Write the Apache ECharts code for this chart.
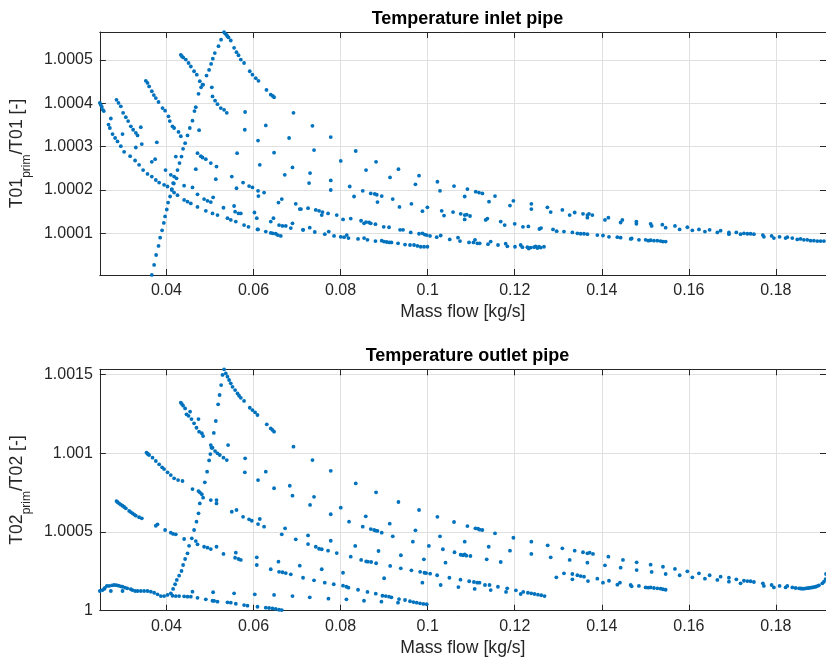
<!DOCTYPE html>
<html><head><meta charset="utf-8">
<script src="https://cdn.jsdelivr.net/npm/echarts@6/dist/echarts.min.js"></script>
<style>html,body{margin:0;padding:0;background:#fff}#c{width:826px;height:660px}</style>
</head><body><div id="c"></div>
<script>
const xTicks = [0.04, 0.06, 0.08, 0.1, 0.12, 0.14, 0.16, 0.18];
const inletTicks = [1.0001, 1.0002, 1.0003, 1.0004, 1.0005];
const outletTicks = [1, 1.0005, 1.001, 1.0015];
const xRange = [0.0247, 0.1915];
const inletRange = [1.0000038, 1.0005646];
const outletRange = [1.0, 1.001532];

// ---------- Temperature inlet pipe ----------
const inletRise = [[0.03664,1.000004],[0.03717,1.000027],[0.03763,1.00005],[0.03818,1.000071],[0.03855,1.00009],[0.039,1.000107],[0.0394,1.000124],[0.03969,1.000139],[0.04008,1.000155],[0.04038,1.000171],[0.04084,1.000185],[0.04123,1.0002],[0.04169,1.000215],[0.04254,1.000246],[0.043,1.000262],[0.04346,1.000277],[0.04382,1.000295],[0.04429,1.000308],[0.04484,1.000326],[0.04537,1.000343],[0.04598,1.00036],[0.04644,1.000382],[0.04674,1.000391],[0.04736,1.000422],[0.04796,1.000437],[0.04842,1.000443],[0.0492,1.000464],[0.0498,1.000477],[0.05026,1.000491],[0.05065,1.000503],[0.05111,1.000516],[0.05196,1.000532],[0.05255,1.000547],[0.05324,1.000564]];
const inletSteep = [[0.0247,1.000401],[0.02493,1.000396],[0.02516,1.000392],[0.02539,1.000385],[0.02562,1.000382],
[0.02853,1.000408],[0.02899,1.000401],[0.02952,1.000393],[0.03005,1.000378],[0.03067,1.000368],[0.0312,1.000359],[0.03182,1.000347],[0.03235,1.000339],[0.03297,1.000332],[0.03336,1.000326],
[0.03526,1.000452],[0.03565,1.000447],[0.03602,1.000439],[0.03664,1.000428],[0.0371,1.000419],[0.03756,1.000412],[0.03818,1.000403],[0.0391,1.000389],[0.03969,1.000383],[0.04047,1.00037],[0.04077,1.000359],[0.04139,1.000347],[0.04176,1.000343],[0.04277,1.000334],[0.0433,1.000324],
[0.0433,1.000512],[0.0435,1.000509],[0.04383,1.000506],[0.04445,1.000501],[0.04507,1.000493],[0.0456,1.000485],[0.04635,1.000474],[0.04697,1.000466],[0.04766,1.000451],[0.04828,1.000443],[0.05042,1.000437],[0.05058,1.000416],[0.05117,1.000406],[0.05173,1.000398],[0.05248,1.000389],[0.05324,1.000385],[0.05386,1.000378],
[0.0535,1.000561],[0.05379,1.000558],[0.054,1.000555],[0.05425,1.000552],[0.05478,1.000545],[0.05554,1.000528],[0.05609,1.000518],[0.05655,1.000511],[0.05708,1.000501],[0.05783,1.000493],[0.05914,1.000474],[0.05976,1.000466],[0.06052,1.000458],[0.06114,1.000452],[0.06298,1.000431],[0.06396,1.00042],[0.06442,1.000417],[0.06472,1.000414]];
const inletLower = [[0.0267,1.000351],[0.027,1.000343],[0.02723,1.000365],[0.02762,1.000329],[0.02821,1.00032],[0.02876,1.000312],[0.02952,1.000301],[0.03028,1.000288],[0.03166,1.000278],[0.0328,1.000268],[0.03372,1.000258],[0.03464,1.000246],[0.03565,1.000237],[0.03664,1.000231],[0.03756,1.000223],[0.03832,1.000217],[0.03946,1.000212],[0.04024,1.000208],[0.04123,1.000202],[0.04176,1.000194],[0.04254,1.000188],[0.04406,1.000177],[0.04484,1.000173],[0.0456,1.000169],[0.04713,1.000161],[0.04904,1.000152],[0.05058,1.000146],[0.05173,1.000142],[0.05402,1.000135],[0.05478,1.000131],[0.05593,1.000127],[0.05783,1.000119],[0.05884,1.000115],[0.06091,1.000109],[0.06282,1.000104],[0.06396,1.000101],[0.06442,1.0001],[0.06511,1.000099],[0.06557,1.000096],[0.06626,1.000094]];
const inletMid = [[0.03664,1.000265],[0.0374,1.000271],[0.03979,1.000246],[0.041,1.000235],[0.04176,1.000231],[0.04231,1.000227],[0.04153,1.000216],[0.04215,1.000277],[0.04713,1.000285],[0.04789,1.000278],[0.04828,1.000275],[0.04904,1.000271],[0.05019,1.000262],[0.0515,1.000254],[0.04674,1.000248],[0.05134,1.000225],[0.04406,1.00021],[0.04598,1.000206],[0.04713,1.00019],[0.04865,1.000179],[0.04943,1.000175],[0.05019,1.000172],[0.05072,1.000183],[0.0531,1.000159],[0.05554,1.000163],[0.05577,1.00015],[0.05655,1.000146],[0.05708,1.000146],[0.05501,1.000231],[0.05609,1.000204],[0.0576,1.000217],[0.05898,1.000209],[0.05976,1.000206],[0.06104,1.000198],[0.06243,1.000194],[0.06112,1.000186],[0.06022,1.000148],[0.06075,1.000135],[0.06104,1.000109],[0.06396,1.000127],[0.06458,1.000135],[0.06587,1.000119],[0.06665,1.000117],[0.06741,1.000117],[0.06895,1.000123],[0.06856,1.000112],[0.07138,1.000108],[0.06573,1.000171],[0.06649,1.000179],[0.0697,1.000168],[0.07062,1.000156],[0.06718,1.000235],[0.06895,1.000252],[0.06144,1.000258],[0.06472,1.000286],[0.05623,1.000285],[0.05807,1.00038],[0.058,1.000339],[0.06104,1.000314],[0.06282,1.000349],[0.06817,1.00032],[0.06918,1.000378],[0.0475,1.000338],[0.07354,1.000348],[0.03779,1.00031],[0.02991,1.000329],[0.03411,1.000345],[0.03434,1.000306],[0.03297,1.000298]];
const inletRightUpper = [[0.07774,1.000322],[0.0739,1.000292],[0.07299,1.000239],[0.07276,1.000216],[0.07774,1.000222],[0.07774,1.0002],[0.08004,1.000267],[0.08348,1.00029],[0.08585,1.000246],[0.08815,1.000265],[0.0821,1.000208],[0.0831,1.000185],[0.08509,1.000198],[0.08693,1.000192],[0.08785,1.000191],[0.08831,1.000189],[0.08945,1.000186],[0.08847,1.000172],[0.09136,1.000229],[0.09329,1.000248],[0.09198,1.000179],[0.09352,1.000161],[0.09802,1.000233],[0.09719,1.000213],[0.09627,1.000168],[0.0988,1.000151],[0.09994,1.00016],[0.10224,1.000219],[0.10284,1.000198],[0.10606,1.000209],[0.10913,1.000202],[0.10851,1.000185],[0.11104,1.000196],[0.11179,1.000194],[0.11257,1.000192],[0.11547,1.000186],[0.11409,1.000173],[0.11969,1.000175],[0.11891,1.000164],[0.12382,1.000168],[0.12382,1.000156],[0.1275,1.00016],[0.12826,1.000149],[0.13094,1.000154],[0.13262,1.000142],[0.13377,1.000148],[0.13568,1.000145],[0.13669,1.000142],[0.13705,1.000145],[0.13783,1.000142],[0.13669,1.000136],[0.14073,1.000131],[0.14151,1.000136],[0.14433,1.000125],[0.14472,1.000131],[0.14794,1.000127],[0.14794,1.000122],[0.15122,1.000122],[0.15145,1.000117],[0.15391,1.00012],[0.15467,1.000113],[0.15681,1.000117],[0.15788,1.000109],[0.15965,1.000114],[0.1608,1.000107],[0.16231,1.000109],[0.16369,1.000104],[0.16477,1.000108],[0.16654,1.000102],[0.16729,1.000106],[0.1692,1.000102],[0.1692,1.000098],[0.1709,1.000102],[0.17188,1.000098],[0.17265,1.0001],[0.17343,1.000099],[0.17418,1.000099],[0.17494,1.000098],[0.177,1.000096],[0.17723,1.000092],[0.17901,1.000094],[0.17953,1.000089],[0.18084,1.000092],[0.18222,1.000089],[0.18261,1.000091],[0.18376,1.000089],[0.1849,1.000086],[0.18566,1.000087],[0.18642,1.000085],[0.1872,1.000085],[0.18796,1.000083],[0.18872,1.000083],[0.1895,1.000082],[0.19026,1.000082],[0.19102,1.000082],[0.19157,1.000081]];
const inletRightMid = [[0.0709,1.000156],[0.07253,1.000158],[0.0743,1.000154],[0.07506,1.000152],[0.07584,1.000149],[0.07567,1.000142],[0.07712,1.000146],[0.07912,1.000142],[0.08057,1.000132],[0.08233,1.000134],[0.0847,1.000129],[0.0854,1.000123],[0.08585,1.000126],[0.08654,1.000125],[0.08693,1.000123],[0.08801,1.000121],[0.08991,1.000115],[0.09113,1.000114],[0.09366,1.000108],[0.09434,1.000108],[0.09611,1.000102],[0.09802,1.000099],[0.0988,1.0001],[0.09933,1.000097],[0.09978,1.000096],[0.10323,1.000152],[0.10376,1.000141],[0.10583,1.000149],[0.10759,1.000145],[0.10851,1.000142],[0.10897,1.000143],[0.10973,1.00014],[0.10851,1.000132],[0.11333,1.000131],[0.11372,1.000134],[0.11678,1.000127],[0.11769,1.000119],[0.11999,1.000122],[0.12189,1.000115],[0.12313,1.000116],[0.12567,1.00011],[0.12604,1.000112],[0.12879,1.000109],[0.12964,1.000105],[0.13131,1.000104],[0.13324,1.000102],[0.13439,1.0001],[0.13515,1.000099],[0.13591,1.000099],[0.13669,1.000098],[0.13898,1.000096],[0.14027,1.000095],[0.14165,1.000092],[0.14357,1.000091],[0.14433,1.00009],[0.14663,1.000087],[0.14686,1.000088],[0.14853,1.000085],[0.15007,1.000085],[0.15069,1.000083],[0.15122,1.000084],[0.15198,1.000083],[0.15276,1.000083],[0.15352,1.000082],[0.15405,1.000081],[0.15467,1.000081]];
const inletRightLow = [[0.07138,1.000108],[0.07292,1.000113],[0.07407,1.000103],[0.07637,1.000098],[0.07728,1.000104],[0.0785,1.000094],[0.08004,1.000092],[0.0808,1.000091],[0.08142,1.000096],[0.08181,1.000089],[0.08401,1.000087],[0.0854,1.000089],[0.08617,1.000085],[0.08801,1.000082],[0.08945,1.000083],[0.08998,1.000081],[0.0906,1.00008],[0.09122,1.000079],[0.09168,1.000079],[0.0932,1.000077],[0.0948,1.000074],[0.09595,1.000073],[0.09687,1.000073],[0.09765,1.000071],[0.09841,1.000069],[0.09917,1.000069],[0.09994,1.000069],[0.10054,1.000094],[0.10208,1.000091],[0.103,1.000095],[0.10507,1.000086],[0.10697,1.00009],[0.10743,1.000082],[0.1095,1.000079],[0.11051,1.000079],[0.11088,1.000085],[0.11142,1.000077],[0.11195,1.000077],[0.11386,1.000075],[0.11448,1.000081],[0.11616,1.000073],[0.11792,1.000076],[0.11831,1.00007],[0.12006,1.000069],[0.12137,1.000073],[0.12176,1.000068],[0.1229,1.000068],[0.1232,1.000065],[0.12366,1.000067],[0.12443,1.000068],[0.1248,1.00007],[0.12521,1.000066],[0.12558,1.000069],[0.12597,1.000067],[0.12672,1.000069]];

// ---------- Temperature outlet pipe ----------
const outletRise = [[0.04024,1.0001],[0.041,1.00011],[0.04153,1.000138],[0.04199,1.000168],[0.04238,1.000195],[0.04291,1.000222],[0.04346,1.000252],[0.04383,1.00029],[0.04429,1.000328],[0.04484,1.000364],[0.0452,1.000412],[0.04582,1.000459],[0.04635,1.000512],[0.0469,1.000565],[0.04736,1.000618],[0.04766,1.000681],[0.04812,1.000739],[0.04881,1.000815],[0.04934,1.000882],[0.0498,1.000954],[0.05008,1.000994],[0.05035,1.001034],[0.05088,1.001128],[0.05134,1.001204],[0.05187,1.00131],[0.05221,1.001369],[0.05256,1.001432],[0.05288,1.001496],[0.05324,1.001532]];
const outletLow = [[0.0247,1.000125],[0.02532,1.000131],[0.0257,1.000138],[0.02585,1.000144],[0.02631,1.000157],[0.02684,1.000157],[0.02723,1.000125],[0.0275,1.000161],[0.02798,1.000163],[0.0285,1.000162],[0.02899,1.000159],[0.0295,1.000155],[0.02991,1.000152],[0.02991,1.000125],[0.03051,1.000146],[0.031,1.000142],[0.03182,1.000136],[0.0322,1.000131],[0.0328,1.000125],[0.03336,1.000125],[0.03411,1.000125],[0.03487,1.000125],[0.03565,1.000125],[0.03641,1.000121],[0.03717,1.000114],[0.03795,1.000104],[0.03871,1.000093],[0.03946,1.000093],[0.04139,1.000095],[0.04215,1.000093],[0.04291,1.000093],[0.04406,1.000091],[0.04484,1.000089],[0.0456,1.000089],[0.04713,1.000082],[0.04904,1.000072],[0.05058,1.000063],[0.05096,1.000062],[0.05173,1.000057],[0.05402,1.000053],[0.05478,1.000051],[0.05593,1.000044],[0.05783,1.000036],[0.05861,1.000032],[0.06091,1.000025],[0.06282,1.000019],[0.06357,1.000017],[0.06435,1.000015],[0.06511,1.000011],[0.06587,1.000006],[0.06649,1.000004]];
const outletSteep = [[0.02853,1.000696],[0.02872,1.00069],[0.02913,1.000681],[0.0295,1.000673],[0.02991,1.000666],[0.0303,1.000658],[0.03067,1.00065],[0.03143,1.000633],[0.0318,1.000626],[0.03221,1.000618],[0.0326,1.00061],[0.03297,1.000603],[0.03372,1.000593],[0.03434,1.000586],
[0.03542,1.001003],[0.0357,1.000997],[0.03572,1.000994],[0.03602,1.000988],[0.0368,1.000971],[0.03756,1.00095],[0.03832,1.000929],[0.039,1.00091],[0.03946,1.000899],[0.04024,1.000878],[0.041,1.000861],[0.04176,1.00084],[0.04268,1.000829],[0.04369,1.000823],
[0.04598,1.000772],[0.04736,1.000759],[0.04766,1.000751],[0.04842,1.000717],[0.05019,1.000702],[0.0515,1.000702],[0.0515,1.000681],[0.05501,1.000628],[0.05609,1.000639],[0.0576,1.000596],[0.05898,1.00058],[0.0596,1.000571],[0.06144,1.000582],[0.06104,1.00055],[0.06243,1.000533],[0.06725,1.000523],[0.06649,1.000485],[0.0697,1.000453],[0.06472,1.000777],[0.06833,1.000793],[0.06895,1.00073],
[0.0433,1.00132],[0.04353,1.001312],[0.04383,1.001301],[0.04429,1.001284],[0.04461,1.001246],[0.04507,1.001237],[0.04543,1.001263],[0.04575,1.001216],[0.04635,1.001189],[0.0469,1.001161],[0.04736,1.001216],[0.0475,1.001136],[0.04812,1.001126],[0.04842,1.001108],[0.05019,1.001051],[0.05058,1.001034],[0.05117,1.001013],[0.05173,1.000999],[0.05225,1.000988],[0.0531,1.000971],[0.05386,1.000956],[0.05416,1.001051],
[0.05363,1.001506],[0.05402,1.001485],[0.05439,1.001464],[0.05478,1.001443],[0.05517,1.001421],[0.05577,1.0014],[0.05632,1.001379],[0.05668,1.001364],[0.05708,1.001351],[0.05783,1.001331],[0.05914,1.001288],[0.05976,1.001273],[0.06036,1.001259],[0.06091,1.001242],[0.06305,1.001183],[0.06396,1.001157],[0.06435,1.001147],[0.06472,1.001136],
[0.05807,1.000967],[0.058,1.000878],[0.06104,1.000829],[0.06282,1.000882],[0.06918,1.001041]];
const outletMid = [[0.03756,1.000539],[0.03795,1.000548],[0.03969,1.000512],[0.041,1.000495],[0.04153,1.000487],[0.04215,1.000485],[0.04406,1.000455],[0.04674,1.000442],[0.04713,1.000421],[0.04865,1.000406],[0.04943,1.0004],[0.05019,1.000391],[0.0515,1.000406],[0.0531,1.00036],[0.05577,1.000336],[0.05593,1.000368],[0.05655,1.000328],[0.05708,1.000322],[0.06075,1.000339],[0.06075,1.00029],[0.06396,1.000263],[0.06573,1.000311],[0.06587,1.000247],[0.06665,1.000244],[0.06741,1.000239],[0.06856,1.000231],[0.07062,1.000286],[0.07138,1.000209],[0.0739,1.000193],[0.07636,1.000178],[0.07843,1.000168],[0.08056,1.000159],[0.08134,1.000152],[0.0818,1.000146],[0.08401,1.000133],[0.08617,1.000119],[0.08808,1.000108],[0.08961,1.000095],[0.09037,1.000093],[0.09113,1.000089],[0.09168,1.000085],[0.09342,1.000074],
[0.04598,1.000121],[0.05072,1.000117],[0.05554,1.00011],[0.06029,1.000104],[0.06472,1.0001],[0.06895,1.000093],[0.07292,1.000085],[0.07721,1.000076],[0.08134,1.000072],[0.08538,1.000063],[0.08938,1.000057],[0.09319,1.000051],[0.0948,1.000068],[0.09595,1.00006],[0.09673,1.000055],[0.09749,1.000051],[0.09825,1.000047],[0.09902,1.000043],[0.09978,1.000041]];
const outletRight = [[0.07354,1.000956],[0.07774,1.000888],[0.08348,1.000808],[0.08815,1.000751],[0.07299,1.000671],[0.0739,1.000723],[0.07774,1.000612],[0.08004,1.000654],[0.08194,1.000565],[0.08578,1.000599],[0.08509,1.000533],[0.08693,1.000518],[0.08769,1.000512],[0.08808,1.000508],[0.08847,1.000506],[0.08945,1.000495],[0.09129,1.000552],[0.09329,1.00069],[0.09198,1.000472],[0.09802,1.000639],[0.09719,1.00051],[0.10224,1.000596],[0.10284,1.000472],[0.10606,1.000563],[0.10913,1.000537],[0.11097,1.000523],[0.11157,1.00052],[0.11195,1.000514],[0.11257,1.000512],[0.11547,1.000491],[0.11969,1.000463],[0.12382,1.000438],[0.12757,1.000415],[0.12826,1.000339],[0.12382,1.00036],[0.11891,1.000381],[0.11678,1.000309],[0.11402,1.000406],[0.11356,1.000326],[0.10851,1.000438],[0.10851,1.000358],[0.10759,1.000355],[0.10812,1.000352],[0.1089,1.000349],[0.10982,1.000347],[0.10617,1.000371],[0.1041,1.000305],[0.1035,1.00039],[0.10028,1.000411],[0.09913,1.000326],[0.0966,1.000438],[0.09385,1.000352],[0.09139,1.000284],[0.08871,1.000379],[0.08336,1.000411],[0.08233,1.000343],[0.07912,1.000366],[0.07774,1.000444],[0.07712,1.000381],[0.07567,1.00039],[0.07505,1.000393],[0.0743,1.000406],[0.07253,1.000423],[0.07253,1.000478],[0.07567,1.000263],[0.08056,1.000241],[0.08473,1.000322],[0.08588,1.000313],[0.08627,1.000311],[0.08702,1.000309],[0.08817,1.000301],[0.09,1.000206],[0.09383,1.000269],[0.09627,1.000256],[0.09827,1.000247],[0.09926,1.000241],[0.09965,1.000239],[0.10057,1.000235],[0.10218,1.000225],[0.10499,1.000209],[0.10754,1.000197],[0.10954,1.000187],[0.11062,1.000182],[0.11138,1.000178],[0.11191,1.000178],[0.11421,1.000163],[0.11614,1.000152],[0.11827,1.000142],[0.12027,1.000129],[0.12195,1.000119],[0.12303,1.000114],[0.12379,1.00011],[0.12455,1.000106],[0.12533,1.000102],[0.12609,1.000098],[0.12685,1.000093],[0.12137,1.000106],[0.118,1.000119],[0.11448,1.000131],[0.11317,1.000163],[0.1108,1.000138],[0.10706,1.00015],[0.10299,1.000163],[0.09879,1.000178]];
const outletFar = [[0.13094,1.000396],[0.13262,1.000322],[0.13377,1.000381],[0.13568,1.000371],[0.13669,1.000364],[0.13721,1.000368],[0.13797,1.00036],[0.13669,1.000305],[0.14151,1.000343],[0.14073,1.000288],[0.14486,1.000322],[0.14433,1.000273],[0.14801,1.000307],[0.14801,1.000258],[0.15122,1.000292],[0.15145,1.000246],[0.15405,1.000279],[0.15467,1.000233],[0.1568,1.000265],[0.15788,1.000225],[0.15965,1.00025],[0.1608,1.000212],[0.16231,1.000237],[0.16369,1.000203],[0.16477,1.000225],[0.16654,1.000195],[0.16729,1.000216],[0.1692,1.000209],[0.1692,1.000184],[0.1709,1.000199],[0.17188,1.000174],[0.17265,1.00019],[0.17343,1.000188],[0.17418,1.000187],[0.17494,1.000182],[0.177,1.000174],[0.17723,1.000157],[0.17901,1.000163],[0.17953,1.000148],[0.18084,1.000157],[0.18222,1.000148],[0.18261,1.000157],[0.18376,1.000148],[0.18452,1.000144],[0.18528,1.000142],[0.1857,1.000141],[0.18606,1.00014],[0.1864,1.00014],[0.18682,1.000142],[0.1872,1.000143],[0.18758,1.000144],[0.188,1.000146],[0.18836,1.000148],[0.1887,1.00015],[0.18912,1.000152],[0.1895,1.000156],[0.18988,1.000161],[0.19066,1.000174],[0.19102,1.000184],[0.19141,1.000201],[0.1915,1.000233]];
const outletFarLow = [[0.12956,1.000212],[0.13131,1.000237],[0.13324,1.000233],[0.13324,1.000199],[0.13439,1.000225],[0.13515,1.00022],[0.13591,1.000216],[0.13683,1.000188],[0.13898,1.000203],[0.14027,1.000178],[0.14165,1.00019],[0.14358,1.000165],[0.14417,1.000178],[0.14663,1.000163],[0.14686,1.000155],[0.14853,1.000157],[0.15007,1.000148],[0.15069,1.000146],[0.15122,1.000148],[0.15198,1.000144],[0.15276,1.000142],[0.15352,1.00014],[0.15405,1.000136],[0.15467,1.000133]];

const inletSets = [inletRise, inletSteep, inletLower, inletMid, inletRightUpper, inletRightMid, inletRightLow];
const outletSets = [outletRise, outletLow, outletSteep, outletMid, outletRight, outletFar, outletFarLow];

const FONT = '"Liberation Sans", Arial, Helvetica, sans-serif';
const TXT = '#262626';
const DOT = '#0072BD';
const fmt = v => String(+(+v).toFixed(6));

function xAxes(grid) {
  const base = {
    gridIndex: grid, type: 'value', min: xRange[0], max: xRange[1],
    axisLine: { show: true, onZero: false, lineStyle: { color: TXT, width: 1 } },
    axisTick: { show: true, inside: true, length: 6, customValues: xTicks, lineStyle: { color: TXT } }
  };
  return [
    Object.assign({}, base, {
      position: 'bottom',
      axisLabel: { show: true, customValues: xTicks, formatter: fmt, margin: 8, fontSize: 16, color: TXT, fontFamily: FONT },
      splitLine: { show: true, lineStyle: { color: '#e0e0e0', width: 1 } },
      name: 'Mass flow [kg/s]', nameLocation: 'middle', nameGap: 28,
      nameTextStyle: { fontSize: 17.6, color: TXT, fontFamily: FONT }
    }),
    Object.assign({}, base, { position: 'top', axisLabel: { show: false }, splitLine: { show: false } })
  ];
}
function yAxes(grid, range, ticks, label) {
  const base = {
    gridIndex: grid, type: 'value', min: range[0], max: range[1],
    axisLine: { show: true, onZero: false, lineStyle: { color: TXT, width: 1 } },
    axisTick: { show: true, inside: true, length: 6, customValues: ticks, lineStyle: { color: TXT } }
  };
  return [
    Object.assign({}, base, {
      position: 'left',
      axisLabel: { show: true, customValues: ticks, formatter: fmt, margin: 7, fontSize: 16, color: TXT, fontFamily: FONT },
      splitLine: { show: true, lineStyle: { color: '#e0e0e0', width: 1 } },
      name: label, nameLocation: 'middle', nameRotate: 90, nameGap: 54,
      nameTextStyle: {
        color: TXT, fontFamily: FONT,
        rich: {
          m: { fontSize: 17.6, lineHeight: 18, verticalAlign: 'top', color: TXT, fontFamily: FONT },
          s: { fontSize: 12, lineHeight: 25, verticalAlign: 'bottom', color: TXT, fontFamily: FONT }
        }
      }
    }),
    Object.assign({}, base, { position: 'right', axisLabel: { show: false }, splitLine: { show: false } })
  ];
}

const series = [];
inletSets.forEach(d => series.push({ type: 'scatter', xAxisIndex: 0, yAxisIndex: 0, data: d, symbolSize: 3.8, itemStyle: { color: DOT, opacity: 1 }, silent: true }));
outletSets.forEach(d => series.push({ type: 'scatter', xAxisIndex: 2, yAxisIndex: 2, data: d, symbolSize: 3.8, itemStyle: { color: DOT, opacity: 1 }, silent: true }));

const chart = echarts.init(document.getElementById('c'), null, { renderer: 'canvas' });
chart.setOption({
  animation: false,
  backgroundColor: '#fff',
  title: [
    { text: 'Temperature inlet pipe', left: 462.5, top: 5, textAlign: 'center',
      textStyle: { fontSize: 18, fontWeight: 'bold', color: '#000', fontFamily: FONT } },
    { text: 'Temperature outlet pipe', left: 462.5, top: 342, textAlign: 'center',
      textStyle: { fontSize: 18, fontWeight: 'bold', color: '#000', fontFamily: FONT } }
  ],
  grid: [
    { left: 99, top: 32, width: 727, height: 243, containLabel: false },
    { left: 99, top: 369.3, width: 727, height: 241.4, containLabel: false }
  ],
  xAxis: [].concat(xAxes(0), xAxes(1)),
  yAxis: [].concat(
    yAxes(0, inletRange, inletTicks, '{m|T01}{s|prim}{m|/T01 [-]}'),
    yAxes(1, outletRange, outletTicks, '{m|T02}{s|prim}{m|/T02 [-]}')
  ),
  series: series
});
</script>
</body></html>
